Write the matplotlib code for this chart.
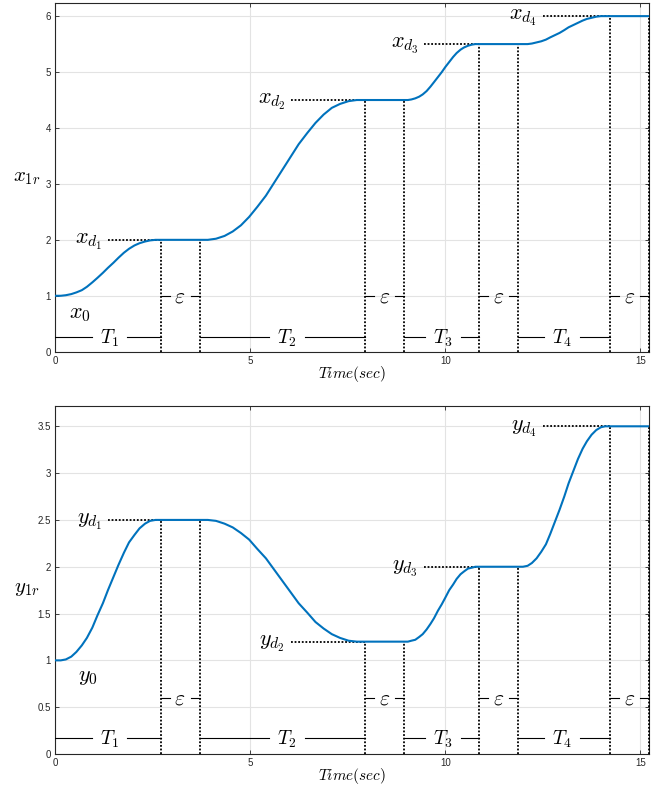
import matplotlib
matplotlib.use('Agg')
import matplotlib.pyplot as plt

plt.rcParams['mathtext.fontset'] = 'cm'
plt.rcParams['font.family'] = ['Liberation Sans', 'DejaVu Sans']

# switching instants (end of T_i, end of epsilon)
t_sw = [2.7, 3.7, 7.94, 8.94, 10.87, 11.87, 14.22, 15.22]

# time samples
t_ref = [0, 0.14, 0.27, 0.41, 0.54, 0.68, 0.81, 0.95, 1.08, 1.22, 1.35,
         1.49, 1.62, 1.76, 1.89, 2.03, 2.16, 2.30, 2.43, 2.57, 2.7,
         3.7, 3.91, 4.12, 4.34, 4.55, 4.76, 4.97, 5.18, 5.40, 5.61, 5.82,
         6.03, 6.24, 6.46, 6.67, 6.88, 7.09, 7.30, 7.52, 7.73, 7.94,
         8.94, 9.04, 9.13, 9.23, 9.33, 9.42, 9.52, 9.62, 9.71, 9.81, 9.91,
         10.00, 10.10, 10.20, 10.29, 10.39, 10.48, 10.58, 10.68, 10.77, 10.87,
         11.87, 11.99, 12.11, 12.22, 12.34, 12.46, 12.58, 12.69, 12.81, 12.93, 13.05,
         13.16, 13.28, 13.40, 13.52, 13.63, 13.75, 13.87, 13.99, 14.10, 14.22,
         15.22]

# x reference (top panel)
x_ref = [1, 1.0, 1.01, 1.03, 1.06, 1.10, 1.16, 1.24, 1.32, 1.41, 1.5,
         1.59, 1.68, 1.77, 1.84, 1.90, 1.94, 1.97, 1.99, 2.0, 2.0,
         2.0, 2.0, 2.02, 2.07, 2.15, 2.26, 2.41, 2.59, 2.79, 3.02, 3.25,
         3.48, 3.71, 3.91, 4.09, 4.24, 4.36, 4.43, 4.48, 4.5, 4.5,
         4.5, 4.5, 4.51, 4.53, 4.56, 4.60, 4.66, 4.74, 4.82, 4.91, 5.0,
         5.09, 5.18, 5.27, 5.34, 5.40, 5.44, 5.47, 5.49, 5.5, 5.5,
         5.5, 5.5, 5.5, 5.51, 5.53, 5.55, 5.58, 5.62, 5.66, 5.70, 5.75,
         5.80, 5.84, 5.88, 5.92, 5.95, 5.97, 5.99, 6.0, 6.0, 6.0,
         6.0]

# y reference (bottom panel)
y_ref = [1, 1.0, 1.01, 1.04, 1.09, 1.16, 1.24, 1.35, 1.48, 1.61, 1.75,
         1.89, 2.02, 2.15, 2.26, 2.34, 2.41, 2.46, 2.49, 2.5, 2.5,
         2.5, 2.5, 2.49, 2.46, 2.42, 2.36, 2.29, 2.19, 2.09, 1.97, 1.85,
         1.73, 1.61, 1.51, 1.41, 1.34, 1.28, 1.24, 1.21, 1.2, 1.2,
         1.2, 1.2, 1.21, 1.22, 1.25, 1.28, 1.33, 1.39, 1.45, 1.53, 1.6,
         1.67, 1.75, 1.81, 1.87, 1.92, 1.95, 1.98, 1.99, 2.0, 2.0,
         2.0, 2.0, 2.01, 2.04, 2.09, 2.16, 2.24, 2.35, 2.48, 2.61, 2.75,
         2.89, 3.02, 3.15, 3.26, 3.34, 3.41, 3.46, 3.49, 3.5, 3.5,
         3.5]

x_levels = [2, 4.5, 5.5, 6]
y_levels = [2.5, 1.2, 2, 3.5]
lbl_start = [1.35, 6.04, 9.45, 12.5]    # where the dotted level lines begin
T_centers = [1.39, 5.93, 9.93, 13.0]

xticks = [0, 5, 10, 15]
yticks_top = [0, 1, 2, 3, 4, 5, 6]
yticks_bot = [0, 0.5, 1, 1.5, 2, 2.5, 3, 3.5]
yticklabels_bot = ['0', '0.5', '1', '1.5', '2', '2.5', '3', '3.5']

blue = '#0072BD'
dark = '#262626'
W, H = 668, 789
DOT = dict(ls=(0, (1, 1)), color='k', lw=1.3, zorder=3)


def style(ax, ymax, yt, ytl):
    ax.set_xlim(0, 15.23)
    ax.set_ylim(0, ymax)
    ax.set_xticks(xticks)
    ax.set_xticklabels([str(v) for v in xticks])
    ax.set_yticks(yt)
    ax.set_yticklabels(ytl)
    ax.grid(True, color='#e3e3e3', lw=0.8)
    ax.set_axisbelow(True)
    ax.tick_params(direction='in', top=True, right=True, length=3, width=0.6,
                   labelsize=7, colors=dark, pad=3)
    for s in ax.spines.values():
        s.set_color(dark)
        s.set_linewidth(0.8)


def annotate_panel(ax, t, v, levels, var, eps_y, T_y, sc):
    # vertical dotted lines up to the curve
    lv = [levels[0], levels[0], levels[1], levels[1],
          levels[2], levels[2], levels[3], levels[3]]
    for ts, l in zip(t_sw, lv):
        ax.plot([ts, ts], [0, l], clip_on=False, **DOT)
    # horizontal dotted lines to the labels
    for i, (x0, l) in enumerate(zip(lbl_start, levels)):
        ax.plot([x0, t_sw[2 * i]], [l, l], **DOT)
        ax.annotate(r'$%s_{d_%d}$' % (var, i + 1), xy=(x0, l), xytext=(-4, -2.8),
                    textcoords='offset points', ha='right', va='baseline',
                    fontsize=16)
    # epsilon markers
    for i in range(4):
        a, b = t_sw[2 * i], t_sw[2 * i + 1]
        c = (a + b) / 2
        ax.plot([a, c - 0.27], [eps_y, eps_y], color='k', lw=0.8, zorder=3)
        ax.plot([c + 0.27, b], [eps_y, eps_y], color='k', lw=0.8, zorder=3)
        ax.text(c, eps_y - 0.02 * sc, r'$\varepsilon$', ha='center', va='center', fontsize=15.5)
    # T_i markers
    starts = [0, t_sw[1], t_sw[3], t_sw[5]]
    ends = [t_sw[0], t_sw[2], t_sw[4], t_sw[6]]
    for i in range(4):
        c = T_centers[i]
        ax.plot([starts[i], c - 0.46], [T_y, T_y], color='k', lw=0.8, zorder=3)
        ax.plot([c + 0.46, ends[i]], [T_y, T_y], color='k', lw=0.8, zorder=3)
        ax.text(c, T_y - 0.03 * sc, r'$T_%d$' % (i + 1), ha='center', va='center', fontsize=14)
    ax.plot(t, v, color=blue, lw=1.5, zorder=4)


fig = plt.figure(figsize=(W / 100, H / 100), dpi=100)
ax1 = fig.add_axes([55.3 / W, 1 - 351.7 / H, 594 / W, 349 / H])
ax2 = fig.add_axes([55.3 / W, 1 - 754 / H, 594 / W, 348.3 / H])

style(ax1, 6.24, yticks_top, [str(v) for v in yticks_top])
style(ax2, 3.72, yticks_bot, yticklabels_bot)

annotate_panel(ax1, t_ref, x_ref, x_levels, 'x', 1.0, 0.27, 1.0)
annotate_panel(ax2, t_ref, y_ref, y_levels, 'y', 0.6, 0.17, 0.6)

ax1.text(0.36, 0.6, r'$x_0$', ha='left', va='baseline', fontsize=16)
ax2.text(0.59, 0.78, r'$y_0$', ha='left', va='baseline', fontsize=16)

for ax, lab, ly in [(ax1, r'$x_{1r}$', 0.5), (ax2, r'$y_{1r}$', 0.475)]:
    ax.set_ylabel(lab, rotation=0, fontsize=15, va='center', ha='center')
    ax.yaxis.set_label_coords(-0.048, ly)
    ax.set_xlabel(r'$Time(sec)$', fontsize=11)
    ax.xaxis.set_label_coords(0.5, -0.035)

fig.savefig('out.png', dpi=100)
